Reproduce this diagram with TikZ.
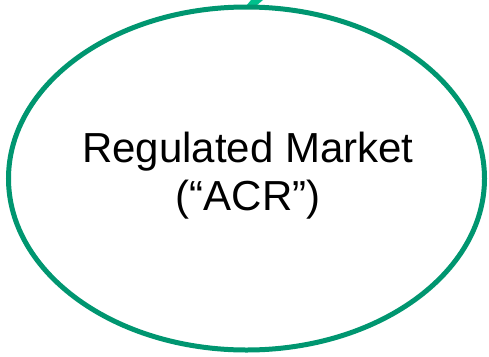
\documentclass[tikz,border=0pt]{standalone}
\usepackage{fontspec}
\setmainfont{Liberation Sans}
\usetikzlibrary{shapes.geometric}
\definecolor{marketgreen}{RGB}{0,150,112}
\definecolor{tipgreen}{RGB}{0,192,140}

\begin{document}
\begin{tikzpicture}[
        x=1pt, y=-1pt,
        market/.style={ellipse, draw=marketgreen, line width=5pt, minimum width=476pt, minimum height=343pt, inner sep=0pt},
        caption/.style={align=center, font=\fontsize{42}{48}\selectfont, inner sep=0pt}
    ]
        \useasboundingbox (0,0) rectangle (489,356);
        % tip of the arrow coming in from above
        \fill[tipgreen] (246,6) -- (251,0) -- (263,0) -- (257,5) -- cycle;

        \node[market] (acr) at (246.5,178.5) {};
        \node[caption] (acrlabel) at (248,176) {Regulated Market\\(“ACR”)};

    \end{tikzpicture}
\end{document}
